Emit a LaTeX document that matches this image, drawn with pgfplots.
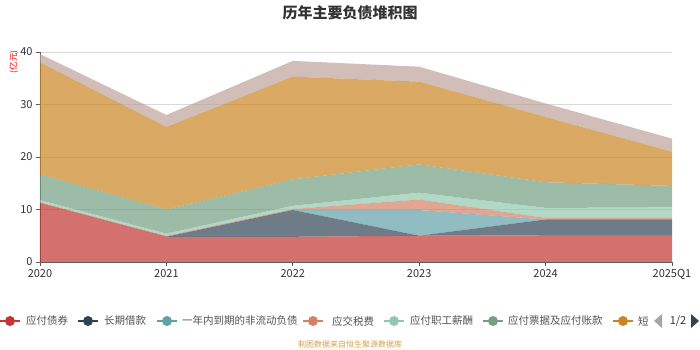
\documentclass[border=0pt]{standalone}
\usepackage{pgfplots}
\pgfplotsset{compat=1.18}
\usepackage{fontspec}
\setmainfont{Noto Sans CJK SC}
\definecolor{c1}{HTML}{C23531}
\definecolor{c2}{HTML}{2F4554}
\definecolor{c3}{HTML}{61A0A8}
\definecolor{c4}{HTML}{D48265}
\definecolor{c5}{HTML}{91C7AE}
\definecolor{c6}{HTML}{749F83}
\definecolor{c7}{HTML}{CA8622}
\definecolor{c8}{HTML}{BDA29A}
\definecolor{txt}{HTML}{333333}
\definecolor{foot}{HTML}{D4A04A}
\newcommand\legitem[4]{%
  \draw[#1, line width=1.2pt] (#2pt-10pt,29pt) -- (#2pt+10pt,29pt);
  \fill[#1] (#2pt,29pt) circle (5pt);
  \node[anchor=west, font=\fontsize{10.5}{10.5}\selectfont, text=txt!85, inner sep=0pt] at (#3pt,29pt) {#4};
}
\begin{document}
\begin{tikzpicture}
\useasboundingbox (0pt,0pt) rectangle (700pt,350pt);
\begin{axis}[
  at={(40pt,88pt)}, anchor=south west,
  scale only axis, width=632pt, height=210pt,
  xmin=0, xmax=5, ymin=0, ymax=40,
  xtick={0,1,2,3,4,5},
  xticklabels={2020,2021,2022,2023,2024,2025Q1},
  ytick={0,10,20,30,40},
  axis x line*=bottom, axis y line*=left,
  axis line style={-, draw=txt!80, line width=0.8pt},
  ymajorgrids, grid style={draw=black!15, line width=0.8pt},
  tick align=outside, major tick length=4pt,
  tick style={draw=txt!80, line width=0.8pt},
  ticklabel style={font=\fontsize{11}{11}\selectfont, text=txt},
  /pgf/number format/assume math mode=true,
  stack plots=y,
  every axis plot/.append style={draw=none, mark=none, fill opacity=0.7},
  clip=false,
]
\addplot [fill=c1] coordinates {(0,11.2) (1,4.8) (2,4.8) (3,5.0) (4,5.1) (5,5.1)} \closedcycle;
\addplot [fill=c2] coordinates {(0,0) (1,0) (2,5.1) (3,0) (4,3.0) (5,3.0)} \closedcycle;
\addplot [fill=c3] coordinates {(0,0) (1,0) (2,0) (3,4.9) (4,0) (5,0)} \closedcycle;
\addplot [fill=c4] coordinates {(0,0.2) (1,0.2) (2,0.2) (3,2.0) (4,0.3) (5,0.3)} \closedcycle;
\addplot [fill=c5] coordinates {(0,0.4) (1,0.4) (2,0.6) (3,1.3) (4,1.9) (5,2.0)} \closedcycle;
\addplot [fill=c6] coordinates {(0,4.9) (1,4.6) (2,5.05) (3,5.4) (4,4.9) (5,4.1)} \closedcycle;
\addplot [fill=c7] coordinates {(0,21.3) (1,15.7) (2,19.55) (3,15.75) (4,12.4) (5,6.5)} \closedcycle;
\addplot [fill=c8] coordinates {(0,1.6) (1,2.3) (2,3.0) (3,2.85) (4,2.6) (5,2.5)} \closedcycle;
\end{axis}
% title
\node[font=\fontsize{15}{15}\selectfont\bfseries, text=txt] at (350pt,337pt) {历年主要负债堆积图};
% y unit
\node[rotate=90, font=\fontsize{8.5}{8.5}\selectfont, text=red] at (14pt,288pt) {(亿元)};
% legend
\legitem{c1}{10}{26}{应付债券}
\legitem{c2}{88}{104}{长期借款}
\legitem{c3}{167}{182}{一年内到期的非流动负债}
\legitem{c4}{313}{332}{应交税费}
\legitem{c5}{394}{410}{应付职工薪酬}
\legitem{c6}{493}{508}{应付票据及应付账款}
\legitem{c7}{623}{638}{短}
\fill[black!35] (654pt,29pt) -- (662pt,36pt) -- (662pt,22pt) -- cycle;
\node[font=\fontsize{11}{11}\selectfont, text=txt] at (678pt,29pt) {1/2};
\fill[c2] (699pt,29pt) -- (691pt,36pt) -- (691pt,22pt) -- cycle;
% footer
\node[font=\fontsize{8}{8}\selectfont, text=foot] at (350pt,6pt) {制图数据来自恒生聚源数据库};
\end{tikzpicture}
\end{document}
